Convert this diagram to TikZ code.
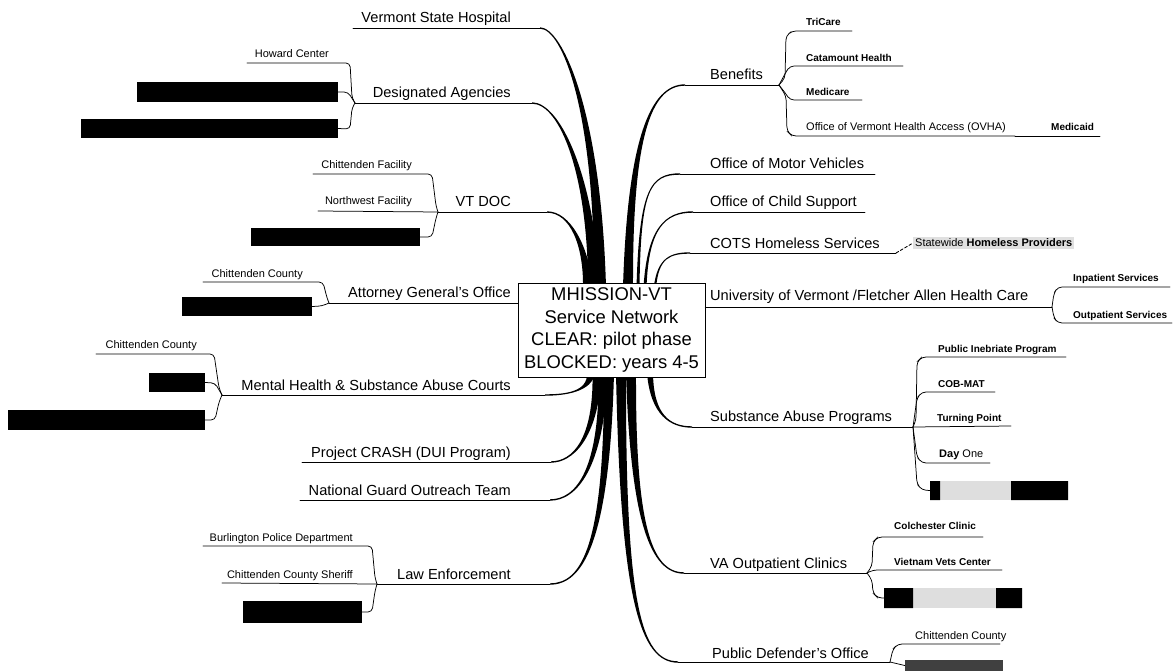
\documentclass[tikz,border=0pt]{standalone}
\usepackage{fontspec}
\setmainfont{Liberation Sans}
\usetikzlibrary{calc}
\pgfdeclarelayer{bg}
\pgfsetlayers{bg,main}
% tapered branch: root, control near root, control near end, end, half width at root (sign = bend side)
\newcommand\taper[5]{%
  \fill[branchfill] ($(#1)+({-1*(#5)},0)$) .. controls ($(#2)+({-0.5*(#5)},0)$) and ($(#3)+(0,-0.7)$) .. ($(#4)+(0,-0.7)$) -- ($(#4)+(0,0.7)$) .. controls ($(#3)+(0,0.7)$) and ($(#2)+({0.5*(#5)},0)$) .. ($(#1)+({#5},0)$) -- cycle;}
\begin{document}
\begin{tikzpicture}[x=1pt,y=-1pt,
  branchfill/.style={fill=black},
  big/.style={font=\fontsize{14.6}{16}\selectfont, inner sep=0pt},
  sm/.style={font=\fontsize{11}{13}\selectfont, inner sep=0pt},
  smb/.style={font=\bfseries\fontsize{10}{12}\selectfont, inner sep=0pt},
  ul/.style={line width=0.85pt, line cap=round},
  sub/.style={line width=0.75pt, rounded corners=4pt, line cap=round},
  bar/.style={fill=black, inner sep=0pt, draw=none},
  faint/.style={fill=black!13, inner sep=0pt, draw=none},
]
\useasboundingbox (0,0) rectangle (1173,671);

% ---------- central topic ----------
\node[draw, line width=0.8pt, fill=white, minimum width=187pt, minimum height=94pt, inner sep=0pt, align=center, font=\fontsize{18.4}{22.7}\selectfont] (hub) at (611.5,330) {MHISSION-VT\\Service Network\\CLEAR: pilot phase\\BLOCKED: years 4-5};

% ---------- left main labels ----------
\node[big,anchor=base east] (vsh) at (511,23) {Vermont State Hospital};
\node[big,anchor=base east] (da) at (511,98) {Designated Agencies};
\node[big,anchor=base east] (doc) at (511,207) {VT DOC};
\node[big,anchor=base east] (ag) at (511,298) {Attorney General's Office};
\node[big,anchor=base east] (mh) at (511,390) {Mental Health \& Substance Abuse Courts};
\node[big,anchor=base east] (crash) at (511,457) {Project CRASH (DUI Program)};
\node[big,anchor=base east] (ng) at (511,495) {National Guard Outreach Team};
\node[big,anchor=base east] (le) at (511,579) {Law Enforcement};

% ---------- left sub labels ----------
\node[sm,anchor=base east] (hc) at (329,58) {Howard Center};
\node[sm,anchor=base east] (cf) at (412,169) {Chittenden Facility};
\node[sm,anchor=base east] (nw) at (412,205) {Northwest Facility};
\node[sm,anchor=base east] (ccag) at (303,277) {Chittenden County};
\node[sm,anchor=base east] (ccmh) at (197,348) {Chittenden County};
\node[sm,anchor=base east] (bpd) at (353,541) {Burlington Police Department};
\node[sm,anchor=base east] (sher) at (353,578) {Chittenden County Sheriff};

% redacted entries (left)
\node[bar, minimum width=201pt, minimum height=20pt] (b1) at (237.5,92) {};
\node[bar, minimum width=257pt, minimum height=19pt] (b2) at (209.5,128.5) {};
\node[bar, minimum width=169pt, minimum height=18pt] (b3) at (335.5,237) {};
\node[bar, minimum width=130pt, minimum height=19pt] (b4) at (247,306.5) {};
\node[bar, minimum width=56pt, minimum height=19pt] (b5) at (177,382.5) {};
\node[bar, minimum width=197pt, minimum height=20pt] (b6) at (106.5,420) {};
\node[bar, minimum width=119pt, minimum height=22pt] (b7) at (302.5,612) {};

% ---------- right main labels ----------
\node[big,anchor=base west] (ben) at (710,80) {Benefits};
\node[big,anchor=base west] (omv) at (710,169) {Office of Motor Vehicles};
\node[big,anchor=base west] (ocs) at (710,207) {Office of Child Support};
\node[big,anchor=base west] (cots) at (710,248) {COTS Homeless Services};
\node[big,anchor=base west] (uvm) at (710,301) {University of Vermont /Fletcher Allen Health Care};
\node[big,anchor=base west] (sap) at (710,421) {Substance Abuse Programs};
\node[big,anchor=base west] (va) at (710,568) {VA Outpatient Clinics};
\node[big,anchor=base west] (pd) at (712,658) {Public Defender's Office};

% ---------- right sub labels ----------
\node[smb,anchor=base west] (tri) at (806,26) {TriCare};
\node[smb,anchor=base west] (cat) at (806,62) {Catamount Health};
\node[smb,anchor=base west] (med) at (806,96) {Medicare};
\node[sm,anchor=base west] (ovha) at (806,131) {Office of Vermont Health Access (OVHA)};
\node[smb,anchor=base west] (mcd) at (1051,131) {Medicaid};
\node[sm,anchor=west, fill=black!12, inner sep=2pt] (swh) at (913,243) {Statewide \textbf{Homeless Providers}};
\node[smb,anchor=base west] (inp) at (1073,282) {Inpatient Services};
\node[smb,anchor=base west] (outp) at (1073,318) {Outpatient Services};
\node[smb,anchor=base west] (pip) at (938,352) {Public Inebriate Program};
\node[smb,anchor=base west] (cob) at (938,387) {COB-MAT};
\node[smb,anchor=base west] (tp) at (937,421) {Turning Point};
\node[sm,anchor=base west] (d1) at (939,457) {\textbf{Day} One};
\node[smb,anchor=base west] (col) at (894,529) {Colchester Clinic};
\node[smb,anchor=base west] (vvc) at (894,565) {Vietnam Vets Center};
\node[sm,anchor=base west] (ccpd) at (915,639) {Chittenden County};

% redacted entries (right)
\node[faint, minimum width=138pt, minimum height=19pt] (b8) at (999,490.5) {};
\fill[black] (930,481) rectangle (940,500) (1011,481) rectangle (1068,500);
\node[faint, minimum width=138pt, minimum height=20pt] (b9) at (953,598) {};
\fill[black] (884,588) rectangle (913,608) (996,588) rectangle (1022,608);
\node[bar, fill=black!75, minimum width=98pt, minimum height=11pt] (b10) at (954,665.5) {};

% ---------- junctions and branch ends ----------
\coordinate (J1) at (355,103);
\coordinate (J2) at (438,212);
\coordinate (J3) at (329,303);
\coordinate (J4) at (222,395);
\coordinate (J5) at (377,584);
\coordinate (J6) at (779,85);
\coordinate (J7) at (1052,307);
\coordinate (J8) at (913,427);
\coordinate (J9) at (867,573);
\coordinate (J10) at (890,662);

\coordinate (eVSH) at (540,28);
\coordinate (eDA) at (532,103);
\coordinate (eDOC) at (547,212);
\coordinate (eMH) at (545,395);
\coordinate (eCR) at (551,462);
\coordinate (eNG) at (550,500);
\coordinate (eLE) at (550,584);
\coordinate (eBEN) at (685,85);
\coordinate (eOMV) at (680,174);
\coordinate (eOCS) at (693,212);
\coordinate (eCOTS) at (690,253);
\coordinate (eSAP) at (692,427);
\coordinate (eVA) at (684,573);
\coordinate (ePD) at (678,662);

% roots under the central box
\coordinate (rVSH) at (600,287);
\coordinate (rDA) at (594,287);
\coordinate (rDOC) at (588,287);
\coordinate (rMH) at (591,373);
\coordinate (rCR) at (597,373);
\coordinate (rNG) at (603,373);
\coordinate (rLE) at (609,373);
\coordinate (rBEN) at (628,287);
\coordinate (rOMV) at (638,287);
\coordinate (rOCS) at (645,287);
\coordinate (rCOTS) at (655,287);
\coordinate (rSAP) at (650,373);
\coordinate (rVA) at (631,373);
\coordinate (rPD) at (621,373);

\begin{pgfonlayer}{bg}
  % upper left
  \taper{rVSH}{598,110}{562,28}{eVSH}{-6}
  \taper{rDA}{591,175}{560,103}{eDA}{-6}
  \taper{rDOC}{586,245}{570,212}{eDOC}{-5}
  % lower left
  \taper{rMH}{590,392}{565,395}{eMH}{4}
  \taper{rCR}{596,440}{572,462}{eCR}{4.5}
  \taper{rNG}{602,470}{576,500}{eNG}{4.5}
  \taper{rLE}{607,545}{582,584}{eLE}{5}
  % upper right
  \taper{rBEN}{630,140}{650,85}{eBEN}{5}
  \taper{rOMV}{640,190}{650,174}{eOMV}{1.5}
  \taper{rOCS}{648,228}{665,212}{eOCS}{1.5}
  \taper{rCOTS}{658,258}{670,253}{eCOTS}{1.2}
  % lower right
  \taper{rSAP}{652,415}{670,427}{eSAP}{-3}
  \taper{rVA}{633,520}{650,573}{eVA}{-5}
  \taper{rPD}{623,600}{640,662}{ePD}{-5}
\end{pgfonlayer}

% ---------- main underlines ----------
\draw[ul] (353,28) -- (eVSH);
\draw[ul] (J1) -- (eDA);
\draw[ul] (J2) -- (eDOC);
\draw[ul] (J3) -- (hub.west |- J3);
\draw[ul] (J4) -- (eMH);
\draw[ul] (302,462) -- (eCR);
\draw[ul] (300,500) -- (eNG);
\draw[ul] (J5) -- (eLE);

\draw[ul] (eBEN) -- (J6);
\draw[ul] (eOMV) -- (875,174);
\draw[ul] (eOCS) -- (865,212);
\draw[ul] (eCOTS) -- (896,253);
\draw[ul, densely dashed] (896,253) -- (swh.west);
\draw[ul] (hub.east |- J7) -- (J7);
\draw[ul] (eSAP) -- (J8);
\draw[ul] (eVA) -- (J9);
\draw[ul] (ePD) -- (J10);

% ---------- sub connectors (left) ----------
\draw[sub] (247,63) -- (350,63) -- (352,98) -- (J1);
\draw[sub] (b1.east) -- (348,92) -- (J1);
\draw[sub] (b2.east) -- (350,129) -- (352,108) -- (J1);

\draw[sub] (313,174) -- (432,174) -- (436,206) -- (J2);
\draw[sub] (318,211) -- (J2);
\draw[sub] (b3.east) -- (432,237) -- (436,218) -- (J2);

\draw[sub] (203,282) -- (323,282) -- (327,298) -- (J3);
\draw[sub] (b4.east) -- (322,306) -- (J3);

\draw[sub] (96,354) -- (214,354) -- (219,388) -- (J4);
\draw[sub] (b5.east) -- (215,383) -- (J4);
\draw[sub] (b6.east) -- (215,420) -- (219,402) -- (J4);

\draw[sub] (203,546) -- (372,546) -- (375,578) -- (J5);
\draw[sub] (222,583) -- (J5);
\draw[sub] (b7.east) -- (372,612) -- (375,591) -- (J5);

% ---------- sub connectors (right) ----------
\draw[sub] (J6) -- (785,78) -- (786,36) -- (792,31) -- (852,31);
\draw[sub] (J6) -- (786,72) -- (790,66) -- (903,66);
\draw[sub] (J6) -- (786,94) -- (790,100) -- (862,100);
\draw[sub] (J6) -- (786,96) -- (787,131) -- (792,136) -- (1015,136);
\draw[sub] (1015,136) -- (1100,136);

\draw[sub] (J7) -- (1054,293) -- (1058,287) -- (1170,287);
\draw[sub] (J7) -- (1054,318) -- (1058,323) -- (1172,323);

\draw[sub] (J8) -- (916,420) -- (917,362) -- (922,357) -- (1066,357);
\draw[sub] (J8) -- (917,398) -- (922,392) -- (995,392);
\draw[sub] (J8) -- (1011,426);
\draw[sub] (J8) -- (917,457) -- (922,463) -- (990,463);
\draw[sub] (J8) -- (917,484) -- (922,490) -- (b8.west);

\draw[sub] (J9) -- (872,566) -- (873,542) -- (878,537) -- (983,537);
\draw[sub] (J9) -- (873,570) -- (1002,570);
\draw[sub] (J9) -- (872,580) -- (873,593) -- (878,598) -- (b9.west);

\draw[sub] (J10) -- (893,649) -- (898,644) -- (1000,644);
\draw[sub] (J10) -- (b10.west);
\end{tikzpicture}
\end{document}
